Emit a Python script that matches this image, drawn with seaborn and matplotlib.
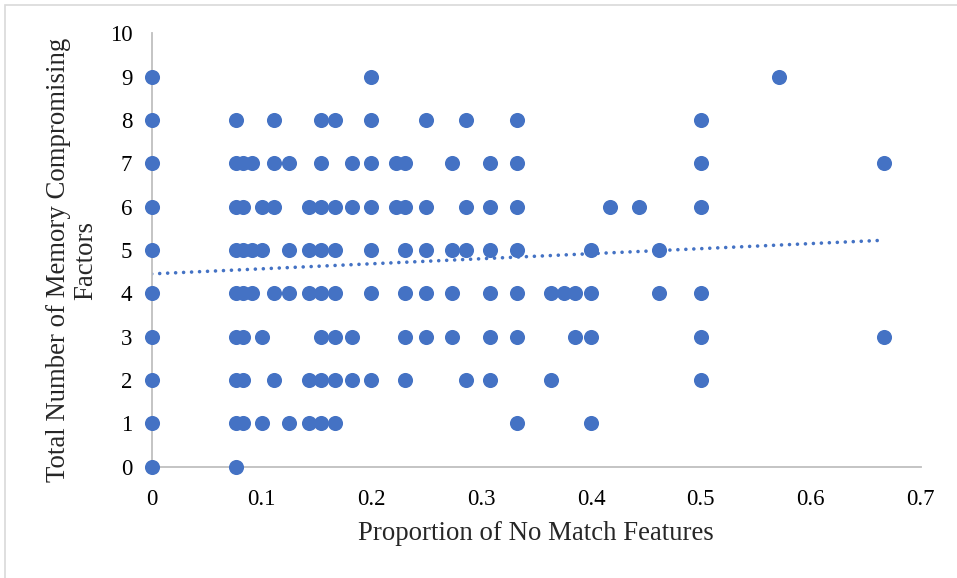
import numpy as np
import pandas as pd
import matplotlib
matplotlib.use("Agg")
import matplotlib.pyplot as plt
import matplotlib.patches as mpatches
import seaborn as sns

# Proportion of No Match Features observed at each total of memory compromising factors
x_at_0 = [0, 0.077]
x_at_1 = [0, 0.077, 0.083, 0.1, 0.125, 0.143, 0.154, 0.167, 0.333, 0.4]
x_at_2 = [0, 0.077, 0.083, 0.111, 0.143, 0.154, 0.167, 0.182, 0.2, 0.231, 0.286, 0.308, 0.364, 0.5]
x_at_3 = [0, 0.077, 0.083, 0.1, 0.154, 0.167, 0.182, 0.231, 0.25, 0.273, 0.308, 0.333, 0.385, 0.4, 0.5, 0.667]
x_at_4 = [0, 0.077, 0.083, 0.091, 0.111, 0.125, 0.143, 0.154, 0.167, 0.2, 0.231, 0.25, 0.273, 0.308,
          0.333, 0.364, 0.375, 0.385, 0.4, 0.462, 0.5]
x_at_5 = [0, 0.077, 0.083, 0.091, 0.1, 0.125, 0.143, 0.154, 0.167, 0.2, 0.231, 0.25, 0.273, 0.286,
          0.308, 0.333, 0.4, 0.462]
x_at_6 = [0, 0.077, 0.083, 0.1, 0.111, 0.143, 0.154, 0.167, 0.182, 0.2, 0.222, 0.231, 0.25, 0.286,
          0.308, 0.333, 0.417, 0.444, 0.5]
x_at_7 = [0, 0.077, 0.083, 0.091, 0.111, 0.125, 0.154, 0.182, 0.2, 0.222, 0.231, 0.273, 0.308, 0.333,
          0.5, 0.667]
x_at_8 = [0, 0.077, 0.111, 0.154, 0.167, 0.2, 0.25, 0.286, 0.333, 0.5]
x_at_9 = [0, 0.2, 0.571]

factor_levels = [0, 1, 2, 3, 4, 5, 6, 7, 8, 9]
x_by_level = [x_at_0, x_at_1, x_at_2, x_at_3, x_at_4, x_at_5, x_at_6, x_at_7, x_at_8, x_at_9]

# Linear trendline
trend_intercept = 4.45
trend_slope = 1.165

x_ticks = [0, 0.1, 0.2, 0.3, 0.4, 0.5, 0.6, 0.7]
x_tick_labels = ["0", "0.1", "0.2", "0.3", "0.4", "0.5", "0.6", "0.7"]
y_ticks = [0, 1, 2, 3, 4, 5, 6, 7, 8, 9, 10]

rows = []
for lvl, xs in zip(factor_levels, x_by_level):
    for xv in xs:
        rows.append({"prop": xv, "factors": lvl})
df = pd.DataFrame(rows)

sns.set_theme(style="white")
plt.rcParams["font.family"] = ["Liberation Serif", "DejaVu Serif"]

W, H = 957, 578
fig = plt.figure(figsize=(W / 100, H / 100), dpi=100)
ax = fig.add_axes([151.7 / W, 1 - 466.7 / H, (920.5 - 151.7) / W, (466.7 - 33.4) / H])

blue = "#4472C4"
sns.scatterplot(data=df, x="prop", y="factors", ax=ax, color=blue, s=118,
                linewidth=0, clip_on=False, zorder=3)

tx = np.array([0, df["prop"].max()])
ax.plot(tx, trend_intercept + trend_slope * tx, color=blue, lw=2.6,
        linestyle=(0, (0.01, 2.2)), dash_capstyle="round", zorder=2)

ax.set_xlim(0, 0.7)
ax.set_ylim(0, 10)
ax.set_xticks(x_ticks)
ax.set_xticklabels(x_tick_labels)
ax.set_yticks(y_ticks)
ax.tick_params(axis="both", length=0, labelsize=16.5, colors="black")
ax.tick_params(axis="x", pad=16)
ax.tick_params(axis="y", pad=14)

for side in ["top", "right"]:
    ax.spines[side].set_visible(False)
for side in ["left", "bottom"]:
    ax.spines[side].set_color("#bfbfbf")
    ax.spines[side].set_linewidth(1.3)
ax.grid(False)

ax.set_xlabel("Proportion of No Match Features", fontsize=19.3)
ax.xaxis.label.set_va("center")
ax.xaxis.set_label_coords(0.5, (1 - 533 / H - (1 - 466.7 / H)) / ((466.7 - 33.4) / H))
ax.set_ylabel("Total Number of Memory Compromising\nFactors", fontsize=19.3, linespacing=1.15)
ax.yaxis.label.set_va("center")
ax.yaxis.set_label_coords((72 - 151.7) / (920.5 - 151.7), ((1 - 260 / H) - (1 - 466.7 / H)) / ((466.7 - 33.4) / H))

border = mpatches.Rectangle((5 / W, -0.05), 1.2, 1 - 5 / H + 0.05, transform=fig.transFigure,
                            fill=False, edgecolor="#d9d9d9", lw=1.2)
fig.patches.append(border)

fig.savefig("out.png", dpi=100)
